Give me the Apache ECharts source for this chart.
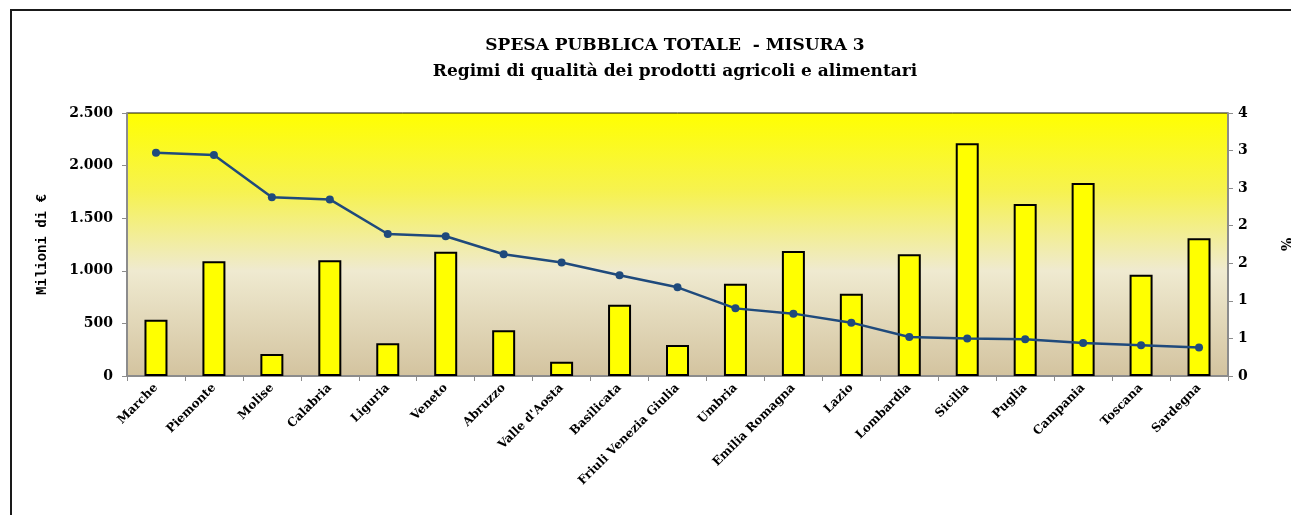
<!DOCTYPE html>
<html>
<head>
<meta charset="utf-8">
<script src="https://cdn.jsdelivr.net/npm/echarts@6/dist/echarts.min.js"></script>
<style>
  html, body { margin: 0; padding: 0; background: #fff; overflow: hidden; }
  #chart { width: 1291px; height: 515px; }
</style>
</head>
<body>
<div id="chart"></div>
<script>
const regioni = ['Marche', 'Piemonte', 'Molise', 'Calabria', 'Liguria', 'Veneto', 'Abruzzo',
  "Valle d'Aosta", 'Basilicata', 'Friuli Venezia Giulia', 'Umbria', 'Emilia Romagna', 'Lazio',
  'Lombardia', 'Sicilia', 'Puglia', 'Campania', 'Toscana', 'Sardegna'];

// spesa pubblica totale (milioni di euro)
const spesa = [535, 1090, 210, 1100, 311, 1182, 435, 136, 678, 295, 878, 1189, 783,
  1157, 2213, 1636, 1835, 963, 1309];

// quota misura 3 (%)
const percentuale = [2.97, 2.94, 2.38, 2.35, 1.89, 1.86, 1.62, 1.51, 1.34, 1.18, 0.90,
  0.83, 0.71, 0.52, 0.50, 0.49, 0.44, 0.41, 0.38];

const chart = echarts.init(document.getElementById('chart'));

const serif = '"DejaVu Serif", "Liberation Serif", serif';

const option = {
  backgroundColor: '#fff',
  title: {
    text: 'SPESA PUBBLICA TOTALE  - MISURA 3\nRegimi di qualità dei prodotti agricoli e alimentari',
    left: 670,
    textAlign: 'center',
    top: 28,
    textStyle: {
      fontFamily: serif,
      fontWeight: 'bold',
      fontSize: 17,
      lineHeight: 26,
      color: '#000'
    }
  },
  graphic: [
    {
      // cornice: lato superiore e lato sinistro
      type: 'line',
      shape: { x1: 10, y1: 10, x2: 1291, y2: 10 },
      style: { stroke: '#1a1a1a', lineWidth: 2 },
      silent: true
    },
    {
      type: 'line',
      shape: { x1: 11, y1: 10, x2: 11, y2: 515 },
      style: { stroke: '#1a1a1a', lineWidth: 2 },
      silent: true
    }
  ],
  grid: {
    left: 127,
    right: 63,
    top: 113,
    bottom: 139,
    outerBoundsMode: 'none',
    show: true,
    borderColor: '#111',
    borderWidth: 1,
    backgroundColor: new echarts.graphic.LinearGradient(0, 0, 0, 1, [
      { offset: 0, color: '#FFFF00' },
      { offset: 0.3, color: '#F6F250' },
      { offset: 0.6, color: '#EFEAD0' },
      { offset: 1, color: '#D3C39F' }
    ])
  },
  xAxis: {
    type: 'category',
    data: regioni,
    axisLine: { lineStyle: { color: '#8c8c8c', width: 2 } },
    axisTick: { show: true, length: 5, lineStyle: { color: '#8c8c8c' } },
    axisLabel: {
      rotate: 45,
      interval: 0,
      margin: 10,
      fontFamily: serif,
      fontWeight: 'bold',
      fontSize: 12,
      color: '#000'
    }
  },
  yAxis: [
    {
      type: 'value',
      min: 0,
      max: 2500,
      interval: 500,
      name: 'Milioni di €',
      nameLocation: 'middle',
      nameGap: 78,
      nameTextStyle: {
        fontFamily: '"Liberation Mono", "DejaVu Sans Mono", monospace',
        fontWeight: 'bold',
        fontSize: 14,
        color: '#000'
      },
      axisLine: { show: true, lineStyle: { color: '#8c8c8c', width: 2 } },
      axisTick: { show: true, length: 5, lineStyle: { color: '#8c8c8c' } },
      splitLine: { show: false },
      axisLabel: {
        margin: 14,
        fontFamily: serif,
        fontWeight: 'bold',
        fontSize: 14,
        color: '#000',
        formatter: v => v.toLocaleString('it-IT')
      }
    },
    {
      type: 'value',
      min: 0,
      max: 3.5,
      interval: 0.5,
      position: 'right',
      name: '%',
      nameLocation: 'middle',
      nameGap: 50,
      nameRotate: -90,
      nameTextStyle: {
        fontFamily: serif,
        fontWeight: 'bold',
        fontSize: 14,
        color: '#000'
      },
      axisLine: { show: true, lineStyle: { color: '#8c8c8c', width: 2 } },
      axisTick: { show: true, length: 5, lineStyle: { color: '#8c8c8c' } },
      splitLine: { show: false },
      axisLabel: {
        margin: 10,
        fontFamily: serif,
        fontWeight: 'bold',
        fontSize: 14,
        color: '#000',
        formatter: v => String(Math.round(v))
      }
    }
  ],
  series: [
    {
      name: 'Spesa pubblica totale',
      type: 'bar',
      yAxisIndex: 0,
      data: spesa,
      barWidth: 23,
      itemStyle: { color: '#FFFF00', borderColor: '#000', borderWidth: 2 }
    },
    {
      name: '%',
      type: 'line',
      yAxisIndex: 1,
      data: percentuale,
      symbol: 'circle',
      symbolSize: 8,
      lineStyle: { color: '#1F4A7C', width: 2.5 },
      itemStyle: { color: '#1F4A7C' }
    }
  ]
};

chart.setOption(option);
</script>
</body>
</html>
